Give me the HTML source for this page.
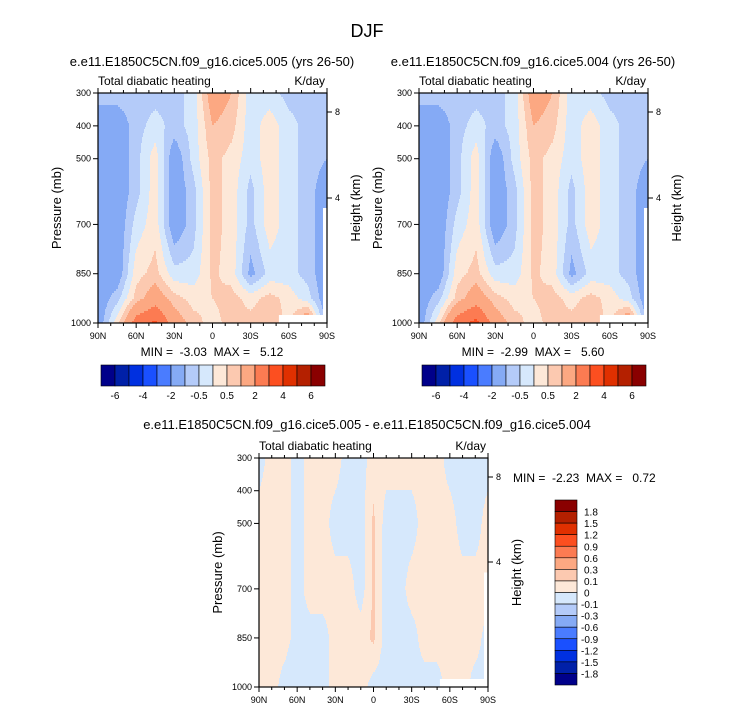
<!DOCTYPE html>
<html><head><meta charset="utf-8">
<style>
body{margin:0;background:#fff;}
svg text{font-family:"Liberation Sans",Helvetica,sans-serif;fill:#000;white-space:pre;}
</style></head>
<body>
<svg id="fig" width="733" height="712" xmlns="http://www.w3.org/2000/svg">
<text x="367" y="37" font-size="18" text-anchor="middle">DJF</text>
</svg>
<script>
// ---------- data ----------
const lats = [90,75,60,45,30,15,0,-15,-30,-45,-60,-75,-90];
const levels = [300,400,500,600,700,850,925,1000];
const field005 = [
 [-0.7,-1.5,-1.5,-1.5,-1.5,-1.5,-1.5,-1.5],
 [-0.7,-1.5,-1.5,-1.5,-1.5,-1.5,-0.7,0.3],
 [-0.7,-0.7,-0.7,-0.7,-0.3,0.3,0.7,2.5],
 [-0.7,-0.3,0.3,0.3,0.3,0.7,1.5,3.2],
 [-0.7,-0.7,-1.5,-1.5,-1.5,-0.3,0.7,1.5],
 [-0.3,-0.3,-0.3,-0.7,-0.7,-0.3,0.3,0.7],
 [1.5,1.0,0.7,0.7,0.7,0.6,0.5,0.3],
 [1.0,0.7,0.3,0.3,0.3,0.3,0.7,0.7],
 [-0.3,-0.3,-0.3,-0.7,-0.7,-1.2,0.3,0.7],
 [-0.3,0.3,0.3,0.3,0.3,-0.3,0.7,1.0],
 [-0.7,-0.3,-0.3,-0.3,-0.3,-0.3,0.3,0.3],
 [-0.7,-0.7,-0.7,-0.7,-0.7,-0.7,-0.3,2.0],
 [-0.7,-1.0,-1.0,-1.5,-1.5,-1.5,-1.5,-1.5]
];
const field004 = [
 [-0.7,-1.5,-1.5,-1.5,-1.5,-1.5,-1.5,-1.5],
 [-0.7,-1.5,-1.5,-1.5,-1.5,-1.5,-0.7,0.3],
 [-0.7,-0.7,-0.7,-0.7,-0.3,0.3,0.7,2.6],
 [-0.7,-0.3,0.3,0.3,0.3,0.7,1.5,3.3],
 [-0.7,-0.7,-1.5,-1.5,-1.5,-0.3,0.7,1.5],
 [-0.3,-0.3,-0.3,-0.7,-0.7,-0.3,0.3,0.7],
 [1.5,1.0,0.7,0.7,0.7,0.6,0.5,0.3],
 [1.0,0.7,0.3,0.3,0.3,0.3,0.7,0.7],
 [-0.3,-0.3,-0.3,-0.7,-0.7,-1.2,0.3,0.7],
 [-0.3,0.3,0.3,0.3,0.3,-0.3,0.7,1.0],
 [-0.7,-0.3,-0.3,-0.3,-0.3,-0.3,0.3,0.3],
 [-0.7,-0.7,-0.7,-0.7,-0.7,-0.7,-0.3,2.0],
 [-0.7,-1.0,-1.0,-1.5,-1.5,-1.5,-1.5,-1.5]
];
const diffLats = [90,80,70,60,50,40,30,20,10,0,-10,-20,-30,-40,-50,-60,-70,-80,-90];
const diffLevels = [300,500,700,850,1000];
const fieldDiff = [
 [-0.05,0.05,0.05,0.05,0.05],
 [0.05,0.05,0.05,0.05,0.05],
 [0.05,0.05,0.05,0.05,-0.05],
 [-0.05,-0.05,-0.05,-0.05,-0.1],
 [0.05,0.05,0.05,-0.05,-0.05],
 [0.05,0.05,0.05,-0.05,-0.05],
 [0.05,-0.05,0.05,0.05,0.05],
 [-0.05,-0.05,0.05,0.05,0.05],
 [-0.05,-0.05,-0.05,0.05,0.05],
 [0.05,0.12,0.12,0.12,-0.05],
 [0.05,-0.05,-0.05,-0.05,-0.05],
 [0.05,-0.05,-0.05,-0.05,-0.05],
 [0.05,-0.05,0.05,-0.05,-0.05],
 [0.05,0.05,0.05,0.05,-0.05],
 [0.05,0.05,0.05,0.05,-0.05],
 [-0.05,0.05,0.05,0.05,0.05],
 [-0.05,-0.05,0.05,0.05,0.05],
 [-0.05,-0.05,0.05,0.05,-0.05],
 [-0.05,0.05,0.05,-0.05,-0.05]
];
const topContourLevels = [-6,-5,-4,-3,-2,-1,-0.5,0,0.5,1,2,3,4,5,6];
const topBarLabels = ["-6","-4","-2","-0.5","0.5","2","4","6"];
const diffContourLevels = [-1.8,-1.5,-1.2,-0.9,-0.6,-0.3,-0.1,0,0.1,0.3,0.6,0.9,1.2,1.5,1.8];
const diffBarLabels = ["1.8","1.5","1.2","0.9","0.6","0.3","0.1","0","-0.1","-0.3","-0.6","-0.9","-1.2","-1.5","-1.8"];
const palette = ["#00008a","#0020a8","#0030e0","#1a50ff","#4a7cff","#85aaf5","#b4cbf9","#d6e8fc","#fde8d8","#fcc9b0","#fca882","#fc7b52","#fc4f20","#e03000","#b42000","#8a0000"];
const pTicks = [300,400,500,700,850,1000];
const latTicks = [90,60,30,0,-30,-60,-90];
const latTickLabels = ["90N","60N","30N","0","30S","60S","90S"];
const heightTicks = [8,4];

// ---------- drawing ----------
const NS="http://www.w3.org/2000/svg";
const svg=document.getElementById('fig');
function mk(tag,attrs,parent){const e=document.createElementNS(NS,tag);for(const k in attrs)e.setAttribute(k,attrs[k]);(parent||svg).appendChild(e);return e;}
function txt(s,x,y,size,anchor,parent,extra){const t=mk('text',Object.assign({x:x,y:y,'font-size':size,'text-anchor':anchor||'start'},extra||{}),parent);t.textContent=s;return t;}

function interp(arr,v){
  if(arr[0]>arr[arr.length-1]){for(let i=0;i<arr.length-1;i++){if(v<=arr[i]&&v>=arr[i+1])return i+(arr[i]-v)/(arr[i]-arr[i+1]);}}
  else{for(let i=0;i<arr.length-1;i++){if(v>=arr[i]&&v<=arr[i+1])return i+(v-arr[i])/(arr[i+1]-arr[i]);}}
  return v<arr[0]?0:arr.length-1;
}
function sample(f,la,lv,lat,p){
  const fi=interp(la,lat), fj=interp(lv,p);
  const i0=Math.min(Math.floor(fi),la.length-2), j0=Math.min(Math.floor(fj),lv.length-2);
  const a=fi-i0,b=fj-j0;
  return f[i0][j0]*(1-a)*(1-b)+f[i0+1][j0]*a*(1-b)+f[i0][j0+1]*(1-a)*b+f[i0+1][j0+1]*a*b;
}
function colorIdx(v,lv){let k=0;while(k<lv.length&&v>=lv[k])k++;return k;}

function panel(cfg){
  const g=mk('g',{},svg);
  
  
  const X0=cfg.x0,X1=cfg.x1,Y0=cfg.y0,Y1=cfg.y1,W=X1-X0,H=Y1-Y0;
  const xs=lat=>X0+(90-lat)/180*W;
  const ys=p=>Y0+(p-300)/700*H;
  const cg=mk('g',{},g);
  
  
  const step=2;
  for(let y=Y0;y<Y1;y+=step){
    const p=300+((y+step/2)-Y0)/H*700;
    let runStart=X0,runC=-1;
    for(let x=X0;x<=X1;x++){
      let c=-2;
      if(x<X1){const lat=90-((x+0.5)-X0)/W*180;c=colorIdx(sample(cfg.field,cfg.lats,cfg.levels,lat,p),cfg.clev);}
      if(c!==runC){
        if(runC>=0){const r=mk('rect',{x:runStart,y:y,width:x-runStart,height:Math.min(step,Y1-y)+0.3,fill:palette[runC]},cg);
          
          }
        runStart=x;runC=c;
      }
    }
  }
  mk('rect',{x:X0+W*0.79,y:Y1-8,width:W*0.21-3,height:8,fill:'#fff'},g);
  mk('rect',{x:X1-4,y:Y0+H*0.5,width:4,height:H*0.5,fill:'#fff'},g);
  mk('rect',{x:X0,y:Y0,width:W,height:H,fill:'none',stroke:'#000','stroke-width':1.2},g);
  for(let lat=90;lat>=-90;lat-=10){const x=xs(lat);const major=lat%30===0;const L=major?5:3;
    mk('line',{x1:x,y1:Y1,x2:x,y2:Y1+L,stroke:'#000'},g);mk('line',{x1:x,y1:Y0,x2:x,y2:Y0-L,stroke:'#000'},g);}
  latTicks.forEach((lat,i)=>{const t=txt(latTickLabels[i],xs(lat),Y1+16,9,'middle',g);
    });
  pTicks.forEach(p=>{const y=ys(p);mk('line',{x1:X0-5,y1:y,x2:X0,y2:y,stroke:'#000'},g);
    const t=txt(String(p),X0-7,y+3,9,'end',g);
    });
  heightTicks.forEach((h,i)=>{const y=cfg.hY[i];mk('line',{x1:X1,y1:y,x2:X1+5,y2:y,stroke:'#000'},g);
    const t=txt(String(h),X1+8,y+3,9,'start',g);
    });
  const yt=txt('Pressure (mb)',0,0,13,'middle',g,{transform:`translate(${X0-37},${(Y0+Y1)/2}) rotate(-90)`});
  
  const ht=txt('Height (km)',0,0,13,'middle',g,{transform:`translate(${X1+33},${(Y0+Y1)/2}) rotate(-90)`});
  
  const l=txt('Total diabatic heating',X0,Y0-8,12,'start',g);
  
  const u=txt('K/day',X1-2,Y0-8,12,'end',g);
  
  return g;
}
function hbar(x0,x1,y0,y1,name){
  const g=mk('g',{},svg);
  
  const w=(x1-x0)/16;
  palette.forEach((c,i)=>{const r=mk('rect',{x:x0+i*w,y:y0,width:w,height:y1-y0,fill:c,stroke:'#000','stroke-width':0.6},g);
    });
  topBarLabels.forEach((s,i)=>{const t=txt(s,x0+(1+2*i)*w,y1+13,10,'middle',g);
    });
}
function title(s,x,y,size,name){const t=txt(s,x,y,size,'middle');}

title('e.e11.E1850C5CN.f09_g16.cice5.005 (yrs 26-50)',212,66,13,'left-panel-title');
title('e.e11.E1850C5CN.f09_g16.cice5.004 (yrs 26-50)',533,66,13,'right-panel-title');
panel({name:'panel-005',x0:98,x1:327,y0:93,y1:323,field:field005,lats:lats,levels:levels,clev:topContourLevels,hY:[112,198]});
panel({name:'panel-004',x0:419,x1:648,y0:93,y1:323,field:field004,lats:lats,levels:levels,clev:topContourLevels,hY:[112,198]});
title('MIN =  -3.03  MAX =   5.12',212,356,12,'left-min-max');
title('MIN =  -2.99  MAX =   5.60',533,356,12,'right-min-max');
hbar(101,325,365,386,'left-colorbar');
hbar(422,646,365,386,'right-colorbar');
title('e.e11.E1850C5CN.f09_g16.cice5.005 - e.e11.E1850C5CN.f09_g16.cice5.004',367,429,13,'difference-title');
panel({name:'panel-difference',x0:259,x1:488,y0:458,y1:687,field:fieldDiff,lats:diffLats,levels:diffLevels,clev:diffContourLevels,hY:[477,562]});
(function(){const t=txt('MIN =  -2.23  MAX =   0.72',513,482,12,'start');
  })();
(function(){
  const g=mk('g',{},svg);
  
  const y0=500,y1=685,x0=555,x1=577,h=(y1-y0)/16;
  for(let i=0;i<16;i++){const r=mk('rect',{x:x0,y:y0+i*h,width:x1-x0,height:h,fill:palette[15-i],stroke:'#000','stroke-width':0.6},g);
    }
  diffBarLabels.forEach((s,i)=>{const t=txt(s,s.startsWith('-')?581:584,y0+(i+1)*h+4,10,'start',g);
    });
})();
</script>
</body></html>
